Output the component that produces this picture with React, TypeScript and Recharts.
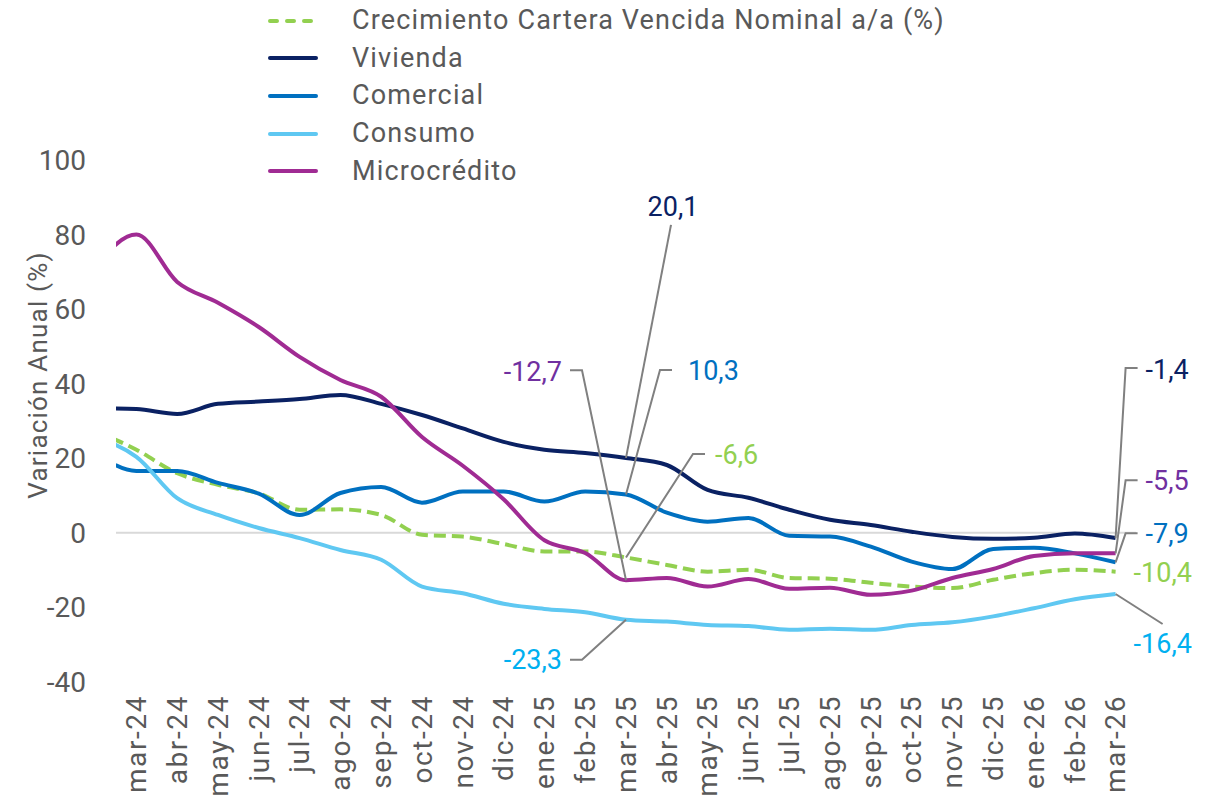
import { LineChart, Line, XAxis, YAxis, ReferenceLine, Legend, LabelList } from "recharts";

// feb-24 is the point just before the visible window (the plot clips it)
const periodos = [
  "feb-24", "mar-24", "abr-24", "may-24", "jun-24", "jul-24", "ago-24", "sep-24",
  "oct-24", "nov-24", "dic-24", "ene-25", "feb-25", "mar-25", "abr-25", "may-25",
  "jun-25", "jul-25", "ago-25", "sep-25", "oct-25", "nov-25", "dic-25", "ene-26",
  "feb-26", "mar-26"
];

const crecimientoCartera = [
  27.3, 22.3, 16, 12.9, 10.6, 6.2, 6.3, 4.8, -0.5, -1, -3, -5, -5, -6.6, -8.6, -10.4,
  -9.9, -12.1, -12.3, -13.4, -14.4, -14.8, -12.6, -10.8, -9.9, -10.4
];
const vivienda = [
  33.4, 33.2, 31.9, 34.6, 35.2, 35.9, 37, 34.6, 31.6, 28, 24.4, 22.3, 21.4, 20.1, 18.2, 11.5,
  9.4, 6.2, 3.5, 2.1, 0.3, -1.1, -1.6, -1.3, -0.2, -1.4
];
const comercial = [
  21.4, 16.6, 16.6, 13.4, 10.5, 4.8, 10.7, 12.3, 8.1, 11.1, 11.1, 8.4, 11.1, 10.3, 5.4, 3,
  4, -0.8, -1, -3.7, -7.7, -9.7, -4.3, -4, -5.5, -7.9
];
const consumo = [
  25.6, 20.4, 9.3, 4.8, 1.3, -1.4, -4.6, -7.2, -14.4, -16.2, -19, -20.4, -21.3, -23.3, -23.8, -24.7,
  -25, -26, -25.7, -26, -24.7, -24, -22.4, -20.2, -17.8, -16.4
];
const microcredito = [
  71.5, 80, 67.3, 61.7, 55.2, 47.2, 41, 36.5, 25.7, 18, 9, -2, -5.4, -12.7, -12.1, -14.4,
  -12.4, -15, -14.7, -16.6, -15.5, -12.1, -9.7, -6.2, -5.5, -5.5
];

const ticksY = [100, 80, 60, 40, 20, 0, -20, -40];

const data = periodos.map((p, i) => ({
  x: i - 1,
  periodo: p,
  cartera: crecimientoCartera[i],
  vivienda: vivienda[i],
  comercial: comercial[i],
  consumo: consumo[i],
  micro: microcredito[i]
}));

const ticksX = periodos.slice(1).map((_, i) => i);

const series = [
  { key: "cartera", name: "Crecimiento Cartera Vencida Nominal a/a (%)", color: "#92D050", text: "#92D050", dash: "12 6" },
  { key: "vivienda", name: "Vivienda", color: "#0A2163", text: "#0A2163" },
  { key: "comercial", name: "Comercial", color: "#0070C0", text: "#0070C0" },
  { key: "consumo", name: "Consumo", color: "#5FC8F2", text: "#00B0F0" },
  { key: "micro", name: "Microcrédito", color: "#A02B93", text: "#7030A0" }
];

// label offsets (px) from the data point, and the leader line bends
const anotaciones: any = {
  vivienda: {
    "mar-25": { t: [47, -251], a: "middle", g: [[45, -233]] },
    "mar-26": { t: [30, -169], a: "start", g: [[10, -170], [22, -170]] }
  },
  micro: {
    "mar-25": { t: [-64, -209], a: "end", g: [[-44, -210], [-56, -210]] },
    "mar-26": { t: [30, -73], a: "start", g: [[10, -73], [22, -73]] }
  },
  comercial: {
    "mar-25": { t: [62, -123.5], a: "start", g: [[34, -124.5], [46, -124.5]] },
    "mar-26": { t: [30, -29], a: "start", g: [[10, -29], [22, -29]] }
  },
  cartera: {
    "mar-25": { t: [89, -102.5], a: "start", g: [[67, -103.5], [79, -103.5]] },
    "mar-26": { t: [18, 1], a: "start", g: [] }
  },
  consumo: {
    "mar-25": { t: [-64, 40], a: "end", g: [[-44, 40], [-56, 40]] },
    "mar-26": { t: [18, 50], a: "start", g: [[47, 30]] }
  }
};

function renderAnotacion(props: any, s: any) {
  const { x, y, value, index } = props;
  const a = anotaciones[s.key][data[index].periodo];
  if (!a || x == null || y == null) return null;
  const pts = [[x, y], ...a.g.map((p: number[]) => [x + p[0], y + p[1]])];
  return (
    <g key={s.key + index}>
      {a.g.length > 0 && (
        <polyline
          points={pts.map((p) => p.join(",")).join(" ")}
          fill="none"
          stroke="#808080"
          strokeWidth={2}
        />
      )}
      <text
        x={x + a.t[0]}
        y={y + a.t[1]}
        dy="0.35em"
        textAnchor={a.a}
        fill={s.text}
        fontSize={27}
      >
        {Number(value).toFixed(1).replace(".", ",")}
      </text>
    </g>
  );
}

function TickMes(props: any) {
  const { x, y, payload } = props;
  return (
    <text
      x={x}
      y={y}
      dy="0.35em"
      textAnchor="end"
      transform={`rotate(-90, ${x}, ${y})`}
      fill="#595959"
      fontSize={28}
      letterSpacing={1.6}
    >
      {periodos[payload.value + 1]}
    </text>
  );
}

function Leyenda() {
  return (
    <div>
      {series.map((s) => (
        <div key={s.key} style={legendRow}>
          <svg width={50} height={6} style={{ display: "block" }}>
            <line
              x1={2}
              y1={3}
              x2={48}
              y2={3}
              stroke={s.color}
              strokeWidth={4}
              strokeLinecap="round"
              strokeDasharray={s.dash ? "7 10" : undefined}
            />
          </svg>
          <span style={legendText}>{s.name}</span>
        </div>
      ))}
    </div>
  );
}

function App() {
  return (
    <div style={{ position: "absolute", left: 0, top: 0, fontFamily: "Roboto", background: "#fff" }}>
      <LineChart
        width={1216}
        height={797}
        data={data}
        margin={{ top: 160, right: 80, bottom: 0, left: 36 }}
      >
        <ReferenceLine y={0} stroke="#D9D9D9" strokeWidth={2} />
        <XAxis
          dataKey="x"
          type="number"
          domain={[-0.5, 24.5]}
          allowDataOverflow
          ticks={ticksX}
          interval={0}
          tick={<TickMes />}
          tickLine={false}
          axisLine={false}
          tickSize={0}
          tickMargin={13}
          height={115}
        />
        <YAxis
          type="number"
          domain={[-40, 100]}
          ticks={ticksY}
          interval={0}
          width={80}
          tickLine={false}
          axisLine={false}
          tickSize={0}
          tickMargin={30}
          tick={{ fill: "#595959", fontSize: 28 }}
          label={(props: any) => {
            const vb = props.viewBox;
            const cx = vb.x + 2;
            const cy = vb.y + vb.height / 2 - 46;
            return (
              <text
                x={cx}
                y={cy}
                dy="0.35em"
                textAnchor="middle"
                transform={`rotate(-90, ${cx}, ${cy})`}
                fill="#595959"
                fontSize={26}
                letterSpacing={1.2}
              >
                Variación Anual (%)
              </text>
            );
          }}
        />
        <Legend
          layout="horizontal"
          verticalAlign="middle"
          align="center"
          wrapperStyle={{ top: 2, left: 268, width: "auto" }}
          content={() => <Leyenda />}
        />
        {series.map((s) => (
          <Line
            key={s.key}
            type="monotone"
            dataKey={s.key}
            name={s.name}
            stroke={s.color}
            strokeWidth={4}
            strokeDasharray={s.dash}
            dot={false}
            activeDot={false}
            isAnimationActive={false}
          >
            <LabelList dataKey={s.key} content={(p: any) => renderAnotacion(p, s)} />
          </Line>
        ))}
      </LineChart>
    </div>
  );
}

const legendRow = {
  display: "flex",
  alignItems: "center",
  height: "37.6px"
};

const legendText = {
  marginLeft: "34px",
  fontSize: "27px",
  color: "#595959",
  lineHeight: 1,
  letterSpacing: "1.15px",
  whiteSpace: "nowrap" as const
};

export default App;
